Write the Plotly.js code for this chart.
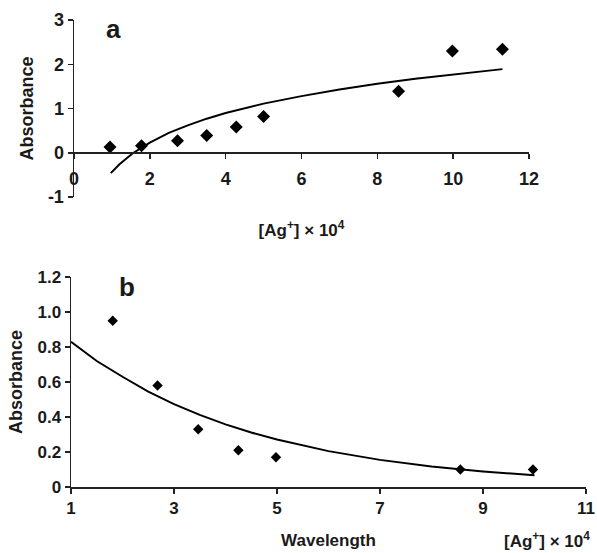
<!DOCTYPE html>
<html>
<head>
<meta charset="utf-8">
<script src="https://cdn.plot.ly/plotly-3.0.1.min.js"></script>
<style>html,body{margin:0;padding:0;background:#fff;}#chart{width:597px;height:553px;}</style>
</head>
<body>
<div id="chart"></div>
<script>
// Panel a: measured points
const aPointsX = [0.95, 1.78, 2.73, 3.5, 4.28, 5.0, 8.56, 9.98, 11.3];
const aPointsY = [0.13, 0.16, 0.27, 0.39, 0.58, 0.82, 1.39, 2.30, 2.34];
// Panel a: trend curve
const aCurveX = [0.97, 1.2, 1.55, 2, 2.5, 3, 3.5, 4, 5, 6, 7, 8, 9, 10, 11.3];
const aCurveY = [-0.46, -0.26, -0.01, 0.23, 0.45, 0.62, 0.77, 0.90, 1.11, 1.28, 1.43, 1.56, 1.67, 1.77, 1.89];
// Panel b: measured points
const bPointsX = [1.81, 2.68, 3.47, 4.25, 4.98, 8.56, 9.97];
const bPointsY = [0.95, 0.58, 0.33, 0.21, 0.17, 0.10, 0.10];
// Panel b: trend curve
const bCurveX = [1, 1.5, 2, 2.5, 3, 3.5, 4, 4.5, 5, 6, 7, 8, 9, 10];
const bCurveY = [0.83, 0.72, 0.63, 0.545, 0.474, 0.412, 0.358, 0.311, 0.271, 0.205, 0.155, 0.117, 0.089, 0.067];
// Tick values and labels
const aXTickVals = [0, 2, 4, 6, 8, 10, 12];
const aXTickText = ['0', '2', '4', '6', '8', '10', '12'];
const aYTickVals = [-1, 0, 1, 2, 3];
const aYTickText = ['-1', '0', '1', '2', '3'];
const bXTickVals = [1, 3, 5, 7, 9, 11];
const bXTickText = ['1', '3', '5', '7', '9', '11'];
const bYTickVals = [0, 0.2, 0.4, 0.6, 0.8, 1.0, 1.2];
const bYTickText = ['0', '0.2', '0.4', '0.6', '0.8', '1.0', '1.2'];

const FONT = 'Liberation Sans, Arial, Helvetica, sans-serif';
const INK = '#1a1a1a';
const bold = arr => arr.map(t => '<b>' + t + '</b>');

const traces = [
  {x: aCurveX, y: aCurveY, mode: 'lines', line: {color: '#000', width: 2}, xaxis: 'x', yaxis: 'y', hoverinfo: 'skip'},
  {x: aPointsX, y: aPointsY, mode: 'markers', marker: {symbol: 'diamond', size: 10, color: '#000'}, xaxis: 'x', yaxis: 'y'},
  {x: bCurveX, y: bCurveY, mode: 'lines', line: {color: '#000', width: 2}, xaxis: 'x2', yaxis: 'y2', hoverinfo: 'skip'},
  {x: bPointsX, y: bPointsY, mode: 'markers', marker: {symbol: 'diamond', size: 8, color: '#000'}, xaxis: 'x2', yaxis: 'y2'}
];

const axCommon = {
  showgrid: false, zeroline: false, showline: true, linecolor: '#222', linewidth: 1.5,
  ticks: 'outside', ticklen: 5, tickcolor: '#222', tickwidth: 1.5,
  tickfont: {family: FONT, size: 18, color: INK, weight: 700}
};

const layout = {
  width: 597, height: 553,
  margin: {l: 0, r: 0, t: 0, b: 0},
  paper_bgcolor: '#fff', plot_bgcolor: 'rgba(0,0,0,0)',
  showlegend: false,
  font: {family: FONT, color: INK},
  xaxis: Object.assign({}, axCommon, {
    domain: [74/597, 529/597], range: [0, 12],
    tickmode: 'array', tickvals: aXTickVals, ticktext: bold(aXTickText),
    anchor: 'free', position: (553-152)/553,
    ticklabelstandoff: 5,
    title: {text: '<b>[Ag<sup>+</sup>] × 10<sup>4</sup></b>', font: {family: FONT, size: 17, color: INK, weight: 700}, standoff: 36}
  }),
  yaxis: Object.assign({}, axCommon, {
    domain: [(553-197)/553, (553-20)/553], range: [-1, 3],
    tickmode: 'array', tickvals: aYTickVals, ticktext: bold(aYTickText),
    anchor: 'x',
    title: {text: '<b>Absorbance</b>', font: {family: FONT, size: 18, color: INK, weight: 700}, standoff: 9}
  }),
  xaxis2: Object.assign({}, axCommon, {
    domain: [71/597, 586/597], range: [1, 11],
    tickmode: 'array', tickvals: bXTickVals, ticktext: bold(bXTickText),
    anchor: 'y2',
    tickfont: {family: FONT, size: 17, color: INK, weight: 700},
    title: {text: '<b>Wavelength</b>', font: {family: FONT, size: 17, color: INK, weight: 700}, standoff: 17}
  }),
  yaxis2: Object.assign({}, axCommon, {
    domain: [(553-487)/553, (553-277)/553], range: [0, 1.2],
    tickmode: 'array', tickvals: bYTickVals, ticktext: bold(bYTickText),
    anchor: 'x2',
    tickfont: {family: FONT, size: 17, color: INK, weight: 700},
    title: {text: '<b>Absorbance</b>', font: {family: FONT, size: 18, color: INK, weight: 700}, standoff: 10}
  }),
  annotations: [
    {text: '<b>a</b>', x: 113/597, y: (553-29)/553, xref: 'paper', yref: 'paper', showarrow: false,
     xanchor: 'center', yanchor: 'middle', font: {family: FONT, size: 26, color: INK, weight: 700}},
    {text: '<b>b</b>', x: 127/597, y: (553-287)/553, xref: 'paper', yref: 'paper', showarrow: false,
     xanchor: 'center', yanchor: 'middle', font: {family: FONT, size: 26, color: INK, weight: 700}},
    {text: '<b>[Ag<sup>+</sup>] × 10<sup>4</sup></b>', x: 502/597, y: (553-540)/553, xref: 'paper', yref: 'paper', showarrow: false,
     xanchor: 'left', yanchor: 'middle', font: {family: FONT, size: 17, color: INK, weight: 700}}
  ]
};

Plotly.newPlot('chart', traces, layout, {staticPlot: true, displayModeBar: false});
</script>
</body>
</html>
